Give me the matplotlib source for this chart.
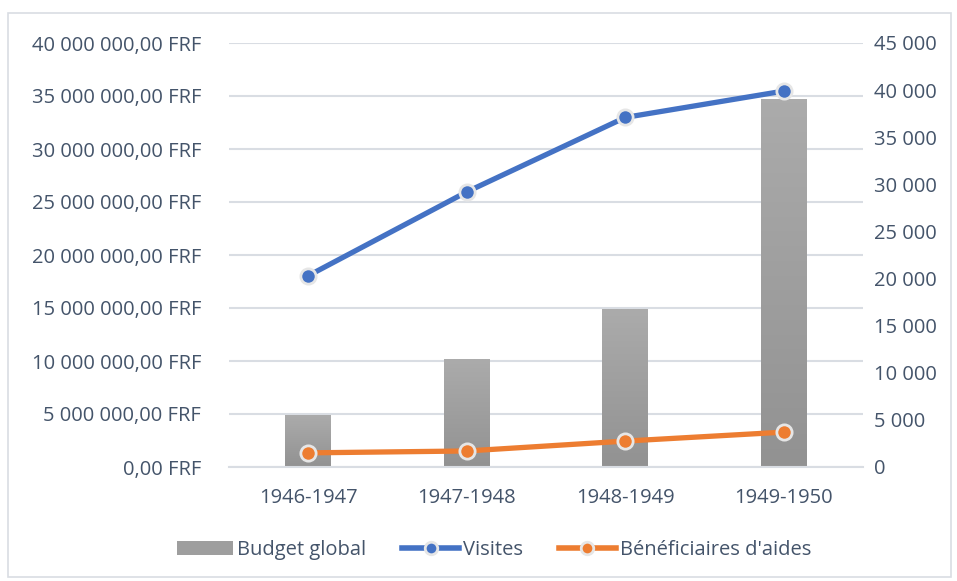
import numpy as np
import matplotlib.pyplot as plt
from matplotlib.patches import Rectangle
from matplotlib.lines import Line2D
from matplotlib.colors import LinearSegmentedColormap

# Data
periods = ["1946-1947", "1947-1948", "1948-1949", "1949-1950"]
budget = [4.85e6, 10.1e6, 14.9e6, 34.7e6]
visites = [20300, 29200, 37100, 39900]
beneficiaires = [1500, 1700, 2750, 3700]

TXT = "#44546a"
GRID = "#d9dde3"
BLUE = "#4472c4"
ORANGE = "#ed7d31"
FS = 14.5

plt.rcParams["font.family"] = ["Open Sans", "DejaVu Sans"]

fig = plt.figure(figsize=(9.57, 5.81), dpi=100)
fig.patches.append(Rectangle((8 / 957, 4 / 581), 943 / 957, 564 / 581,
                             transform=fig.transFigure, fill=False,
                             edgecolor=GRID, lw=1.2))

ax = fig.add_axes([229 / 957, 114 / 581, 634 / 957, 424 / 581])
ax2 = ax.twinx()

x = np.arange(len(periods))
w = 0.29

# gradient bars
cmap = LinearSegmentedColormap.from_list("g", ["#929292", "#ababab"])
grad = np.linspace(0, 1, 100).reshape(-1, 1)
for xi, b in zip(x, budget):
    ax.imshow(grad, extent=[xi - w / 2, xi + w / 2, 0, b], aspect="auto",
              cmap=cmap, origin="lower", zorder=2)
ax.set_xlim(-0.5, len(periods) - 0.5)
ax.set_ylim(0, 40e6)
left_ticks = np.arange(0, 40e6 + 1, 5e6)
ax.set_yticks(left_ticks)
ax.set_yticklabels([f"{int(v):,}".replace(",", " ") + ",00 FRF" for v in left_ticks])
ax.set_xticks(x)
ax.set_xticklabels(periods)
ax.grid(axis="y", color=GRID, lw=1.5, zorder=0)
ax.set_axisbelow(True)

ax2.plot(x, visites, color=BLUE, lw=3.8, marker="o", ms=11,
         markerfacecolor=BLUE, markeredgecolor="#e6e6e6", markeredgewidth=2, zorder=5,
         solid_capstyle="round")
ax2.plot(x, beneficiaires, color=ORANGE, lw=3.8, marker="o", ms=11,
         markerfacecolor=ORANGE, markeredgecolor="#e6e6e6", markeredgewidth=2, zorder=5,
         solid_capstyle="round")
ax2.set_ylim(0, 45000)
ax2.set_yticks(np.arange(0, 45001, 5000))
ax2.set_yticklabels([f"{v:,}".replace(",", " ") for v in range(0, 45001, 5000)])

for a in (ax, ax2):
    for s in a.spines.values():
        s.set_visible(False)
    a.tick_params(length=0, labelsize=FS, colors=TXT)
ax.tick_params(axis="y", pad=20)
ax2.tick_params(axis="y", pad=8)
ax.tick_params(axis="x", pad=15)
ax.spines["bottom"].set_visible(True)
ax.spines["bottom"].set_color(GRID)
ax.spines["bottom"].set_linewidth(1.5)

handles = [
    Rectangle((0, 0), 1, 1, facecolor="#9e9e9e"),
    Line2D([], [], color=BLUE, lw=4, marker="o", ms=9, markerfacecolor=BLUE,
           markeredgecolor="#e6e6e6", markeredgewidth=2),
    Line2D([], [], color=ORANGE, lw=4, marker="o", ms=9, markerfacecolor=ORANGE,
           markeredgecolor="#e6e6e6", markeredgewidth=2),
]
fig.legend(handles, ["Budget global", "Visites", "Bénéficiaires d'aides"],
           loc="center", bbox_to_anchor=(0.516, 31 / 581), ncol=3, frameon=False,
           fontsize=FS, labelcolor=TXT, handlelength=2.8, handletextpad=0.2,
           columnspacing=1.8)

fig.savefig("out.png", dpi=100)
